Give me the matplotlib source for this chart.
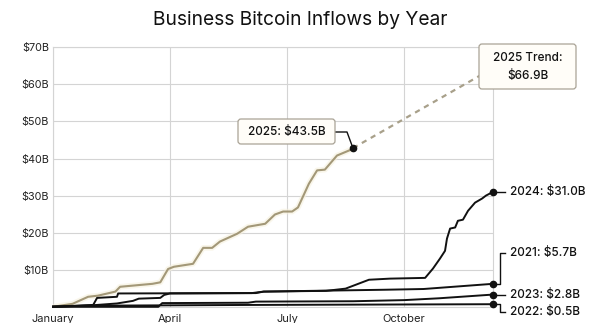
import matplotlib
matplotlib.use("Agg")
import matplotlib.pyplot as plt
from matplotlib.lines import Line2D
from matplotlib.patches import FancyBboxPatch
from matplotlib.transforms import IdentityTransform

plt.rcParams['font.family'] = ['Inter', 'DejaVu Sans']

# cumulative inflows in $B, x = months since Jan 1
x_2025 = [0, 0.5, 0.9, 1.15, 1.6, 1.72, 2.55, 2.75, 2.95, 3.1, 3.59, 3.85, 4.08, 4.28,
          4.72, 5.0, 5.44, 5.69, 5.9, 6.13, 6.28, 6.56, 6.77, 6.97, 7.28, 7.62, 7.69]
y_2025 = [0, 0.8, 2.7, 3.0, 4.1, 5.4, 6.2, 6.6, 10.2, 10.8, 11.6, 15.9, 15.9, 17.6,
          19.7, 21.6, 22.4, 24.9, 25.7, 25.7, 26.8, 33.2, 36.8, 37.0, 40.8, 42.3, 42.8]

x_2024 = [0, 1.0, 1.64, 2.05, 2.2, 2.75, 2.85, 3.0, 5.2, 5.4, 7.0, 7.5, 8.1, 8.64, 9.54,
          9.74, 9.92, 10.05, 10.1, 10.18, 10.31, 10.38, 10.51, 10.64, 10.82, 11.0, 11.1, 11.28]
y_2024 = [0, 0.4, 0.9, 1.6, 2.2, 2.4, 3.2, 3.6, 3.7, 4.1, 4.3, 4.9, 7.3, 7.6, 7.8,
          10.3, 13.0, 15.1, 18.4, 21.1, 21.4, 23.2, 23.5, 25.9, 28.1, 29.2, 30.0, 31.0]

x_2021 = [0, 1.03, 1.13, 1.64, 1.67, 5.1, 5.4, 8.5, 9.5, 11.28]
y_2021 = [0, 0.5, 2.4, 2.7, 3.6, 3.7, 4.1, 4.6, 4.8, 6.2]

x_2023 = [0, 2.7, 2.8, 5.0, 5.2, 7.7, 9.0, 9.9, 11.28]
y_2023 = [0, 0, 1.0, 1.1, 1.4, 1.5, 1.8, 2.3, 3.3]

x_2022 = [0, 1.0, 5.0, 11.28]
y_2022 = [0.1, 0.3, 0.5, 0.7]

trend_x = [7.69, 11.7]
trend_y = [42.8, 66.9]

month_ticks = [0, 3, 6, 9]
month_labels = ['January', 'April', 'July', 'October']
y_ticks = [10, 20, 30, 40, 50, 60, 70]

W, H = 600, 323
fig = plt.figure(figsize=(6, 3.23), dpi=100)
ax = fig.add_axes([53 / W, 1 - 306.8 / H, 440 / W, (306.8 - 47.3) / H])
ax.set_xlim(0, 11.28)
ax.set_ylim(0, 70)

ax.set_xticks(month_ticks)
ax.set_xticklabels(month_labels)
ax.set_yticks(y_ticks)
ax.set_yticklabels(['$%dB' % v for v in y_ticks])
ax.tick_params(length=0, labelsize=7.8, colors='#222222')
ax.tick_params(axis='x', pad=5.5, labelsize=8)
ax.tick_params(axis='y', pad=3)
ax.grid(color='#d4d4d4', lw=0.8)
for s in ax.spines.values():
    s.set_color('#d4d4d4')
    s.set_linewidth(0.8)
    s.set_zorder(0.5)
ax.set_axisbelow(True)

tan = '#a39878'
ax.plot(x_2025, y_2025, color='#f6f0dc', lw=4, alpha=0.6, solid_capstyle='round')
ax.plot(x_2025, y_2025, color=tan, lw=1.5)
ax.plot(trend_x, trend_y, color='#a8a08a', lw=1.6, ls=(0, (2.4, 2.2)), clip_on=False)

for xs, ys in [(x_2022, y_2022), (x_2023, y_2023), (x_2021, y_2021), (x_2024, y_2024)]:
    ax.plot(xs, ys, color='#111111', lw=1.4, clip_on=False)
    ax.plot(xs[-1], ys[-1], 'o', color='#111111', ms=4.5, clip_on=False, zorder=3)
ax.plot(x_2025[-1], y_2025[-1], 'o', color='#111111', ms=4.5, clip_on=False, zorder=3)

fig.suptitle('Business Bitcoin Inflows by Year', x=0.5, y=1 - 20 / H, va='center',
             fontsize=13.8, color='#111111', fontweight='normal')

# helpers in reference pixel coordinates (y from top)
def line_px(xs, ys):
    fig.add_artist(Line2D(xs, [H - y for y in ys], color='#111111', lw=1.0,
                          transform=IdentityTransform(), zorder=2))

def text_px(x, y, s, **kw):
    fig.text(x, H - y, s, transform=IdentityTransform(), va='center',
             color='#111111', zorder=4, fontweight='medium', **kw)

def box_px(x0, y0, x1, y1):
    fig.add_artist(FancyBboxPatch((x0, H - y1), x1 - x0, y1 - y0,
                                  boxstyle='round,pad=0,rounding_size=3',
                                  fc='#fffdf8', ec='#a9a396', lw=0.9,
                                  transform=IdentityTransform(), zorder=3))

fig.canvas.draw()

def end_px(xs, ys):
    dx, dy = ax.transData.transform((xs[-1], ys[-1]))
    return dx, H - dy

# right-side labels
ex, ey = end_px(x_2024, y_2024)
line_px([ex, ex + 12], [ey, ey])
text_px(510, ey, '2024: $31.0B', fontsize=8.5)

ex, ey = end_px(x_2021, y_2021)
line_px([ex, ex + 7, ex + 7, ex + 12], [ey, ey, 253, 253])
text_px(510, 253, '2021: $5.7B', fontsize=8.5)

ex, ey = end_px(x_2023, y_2023)
line_px([ex, ex + 12], [ey, ey])
text_px(510, ey, '2023: $2.8B', fontsize=8.5)

ex, ey = end_px(x_2022, y_2022)
line_px([ex, ex + 7, ex + 7, ex + 12], [ey, ey, 312, 312])
text_px(510, 312, '2022: $0.5B', fontsize=8.5)

# 2025 callouts
ex, ey = end_px(x_2025, y_2025)
line_px([335, 347, ex], [132, 132, ey])
box_px(238, 119, 335, 144)
text_px(286.5, 131.5, '2025: $43.5B', fontsize=8.5, ha='center')

box_px(479, 44, 576, 89)
text_px(527.5, 58, '2025 Trend:', fontsize=8.5, ha='center')
text_px(527.5, 76, '$66.9B', fontsize=8.5, ha='center')

fig.savefig('out.png', dpi=100)
